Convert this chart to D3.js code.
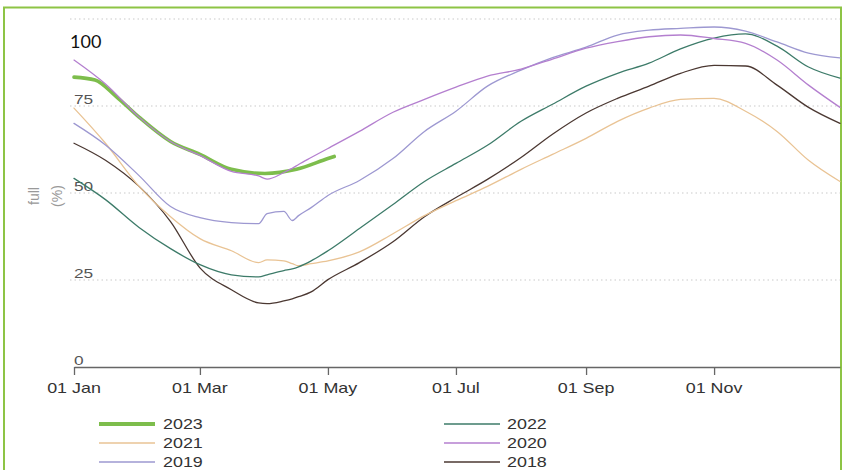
<!DOCTYPE html>
<html>
<head>
<meta charset="utf-8">
<script src="https://cdn.jsdelivr.net/npm/d3@7"></script>
<style>
  html, body { margin: 0; padding: 0; background: #fff; }
  svg { display: block; }
</style>
</head>
<body>
<svg id="chart" width="844" height="470"></svg>
<script>
// Day-of-year sample points shared by the full-year series
const days = [0, 15, 31, 46, 60, 75, 88, 92, 100, 104, 107, 113, 121, 136, 152, 167, 182, 197, 213, 228, 244, 259, 274, 289, 305, 320, 335, 350, 365];

// Storage level (% full) for each year
const v2022 = [54.2, 48.1, 40.1, 34.0, 29.4, 26.5, 25.9, 26.5, 27.7, 28.2, 28.8, 30.5, 33.4, 39.8, 46.7, 53.3, 58.5, 63.7, 70.6, 75.5, 80.7, 84.4, 87.3, 91.4, 94.5, 95.7, 92.2, 86.2, 83.0];
const v2021 = [74.4, 64.3, 51.9, 43.2, 36.9, 33.4, 30.0, 30.8, 30.5, 29.7, 29.1, 29.7, 30.5, 33.1, 38.3, 43.5, 47.8, 51.9, 56.8, 61.1, 65.7, 70.6, 74.4, 76.9, 77.2, 73.5, 67.7, 59.4, 53.3];
const v2020 = [88.2, 81.3, 71.8, 64.8, 60.8, 56.2, 54.9, 54.0, 55.9, 57.1, 58.2, 60.2, 62.8, 67.7, 73.2, 76.9, 80.4, 83.6, 85.6, 88.5, 91.6, 93.5, 94.9, 95.4, 94.4, 93.0, 88.2, 81.0, 74.6];
const v2019 = [70.0, 63.8, 55.0, 46.1, 42.9, 41.5, 41.2, 44.1, 44.7, 42.1, 43.5, 45.8, 49.3, 53.6, 59.9, 67.7, 73.5, 80.7, 85.3, 88.9, 91.9, 95.4, 96.8, 97.3, 97.7, 96.5, 93.4, 90.2, 88.8];
const v2018 = [64.3, 59.4, 51.9, 41.8, 28.5, 22.2, 18.4, 18.2, 19.0, 19.6, 20.2, 21.6, 25.1, 30.0, 36.0, 43.2, 48.7, 53.9, 60.2, 66.9, 73.0, 77.2, 80.7, 84.4, 86.7, 86.5, 81.0, 74.6, 70.0];

// Current year, only recorded so far
const days2023 = [0, 10, 20, 31, 46, 60, 75, 91, 106, 121, 124];
const v2023 = [83.3, 82.5, 77.8, 71.8, 64.8, 61.1, 56.8, 55.6, 56.8, 59.9, 60.5];

const yTicks = [0, 25, 50, 75];
const gridValues = [25, 50, 75, 100];
const xTickDates = ["2020-01-01", "2020-03-01", "2020-05-01", "2020-07-01", "2020-09-01", "2020-11-01"];

const legendLeft = ["2023", "2021", "2019"];
const legendRight = ["2022", "2020", "2018"];

const colors = {
  "2023": "#7dbd4c",
  "2022": "#3d7b69",
  "2021": "#e9c394",
  "2020": "#b47fcf",
  "2019": "#9d98d1",
  "2018": "#4b3832"
};

const base = new Date(Date.UTC(2020, 0, 1));
const toDate = d => d3.utcDay.offset(base, d);

const series = [
  { name: "2023", days: days2023, values: v2023, width: 3.6 },
  { name: "2018", days: days, values: v2018, width: 1.3 },
  { name: "2021", days: days, values: v2021, width: 1.3 },
  { name: "2022", days: days, values: v2022, width: 1.3 },
  { name: "2019", days: days, values: v2019, width: 1.3 },
  { name: "2020", days: days, values: v2020, width: 1.3 }
];

const svg = d3.select("#chart");

const x = d3.scaleUtc()
  .domain([base, toDate(365)])
  .range([74, 840]);

const y = d3.scaleLinear()
  .domain([0, 100])
  .range([367, 19]);

const STRETCH = 1.28;
const font = "'Liberation Sans', Arial, sans-serif";

function wideText(g, tx, ty, str, opts = {}) {
  return g.append("text")
    .attr("transform", `translate(${tx},${ty}) scale(${STRETCH},1)`)
    .attr("text-anchor", opts.anchor || "start")
    .attr("font-family", font)
    .attr("font-size", opts.size || 14)
    .attr("fill", opts.fill || "#333")
    .text(str);
}

// outer frame (bottom edge runs off the page)
svg.append("rect")
  .attr("x", 4).attr("y", 7.5)
  .attr("width", 837).attr("height", 480)
  .attr("fill", "none")
  .attr("stroke", "#8dc445")
  .attr("stroke-width", 2);

// dotted horizontal gridlines
svg.append("g")
  .selectAll("line")
  .data(gridValues)
  .join("line")
  .attr("x1", 70).attr("x2", 840)
  .attr("y1", d => y(d)).attr("y2", d => y(d))
  .attr("stroke", "#c9c9c9")
  .attr("stroke-width", 1.2)
  .attr("stroke-dasharray", "1.5,3");

// y tick labels sit just above their gridline
const yLab = svg.append("g");
yTicks.forEach(v => {
  wideText(yLab, 74, y(v) - 2, String(v), { size: 13.5, fill: "#555" });
});

// top value label
svg.append("text")
  .attr("x", 70).attr("y", 48)
  .attr("font-family", "Lato, 'Open Sans', sans-serif")
  .attr("font-size", 18)
  .attr("fill", "#111")
  .text("100");

// rotated axis title
svg.append("text")
  .attr("transform", "translate(38.5,196) rotate(-90)")
  .attr("text-anchor", "middle")
  .attr("font-family", font)
  .attr("font-size", 14)
  .attr("fill", "#999")
  .text("full");
svg.append("text")
  .attr("transform", "translate(62,196) rotate(-90)")
  .attr("text-anchor", "middle")
  .attr("font-family", font)
  .attr("font-size", 14)
  .attr("fill", "#999")
  .text("(%)");

// x axis
const tickDates = xTickDates.map(s => new Date(s + "T00:00:00Z"));
const xAxis = d3.axisBottom(x)
  .tickValues(tickDates)
  .tickSize(8)
  .tickSizeOuter(0)
  .tickFormat(() => "");

const axisG = svg.append("g")
  .attr("transform", `translate(0,${y(0)})`)
  .call(xAxis);
axisG.select(".domain").attr("stroke", "#666").attr("stroke-width", 1.3);
axisG.selectAll(".tick line").attr("stroke", "#666").attr("stroke-width", 1.3);

const fmt = d3.utcFormat("%d %b");
const xLab = svg.append("g");
tickDates.forEach(d => {
  wideText(xLab, x(d), 393, fmt(d), { anchor: "middle", size: 14, fill: "#333" });
});

// series lines
const line = d3.line()
  .x(d => x(toDate(d[0])))
  .y(d => y(d[1]))
  .curve(d3.curveMonotoneX);

svg.append("g")
  .selectAll("path")
  .data(series)
  .join("path")
  .attr("fill", "none")
  .attr("stroke", d => colors[d.name])
  .attr("stroke-width", d => d.width)
  .attr("stroke-linejoin", "round")
  .attr("stroke-linecap", "round")
  .attr("d", d => line(d.days.map((day, i) => [day, d.values[i]])));

// legend, two columns
const legend = svg.append("g");
const rowY = [424, 443, 462];
function legendColumn(names, lx1, lx2, tx) {
  names.forEach((n, i) => {
    legend.append("line")
      .attr("x1", lx1).attr("x2", lx2)
      .attr("y1", rowY[i]).attr("y2", rowY[i])
      .attr("stroke", colors[n])
      .attr("stroke-width", n === "2023" ? 4 : 1.5);
    wideText(legend, tx, rowY[i] + 5, n, { size: 14, fill: "#333" });
  });
}
legendColumn(legendLeft, 99, 155, 163);
legendColumn(legendRight, 444, 500, 507);
</script>
</body>
</html>
